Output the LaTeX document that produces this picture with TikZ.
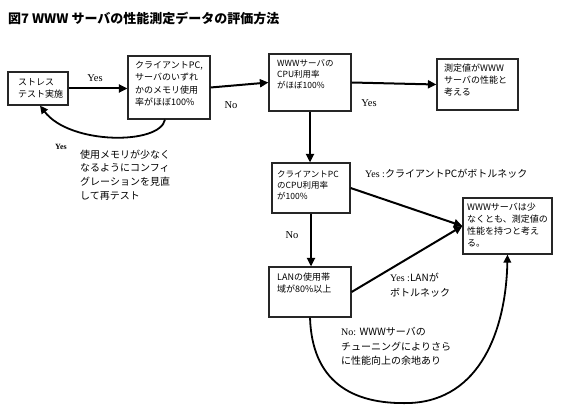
\documentclass[tikz,border=0pt]{standalone}
\usepackage{fontspec}
\setmainfont{Liberation Serif}
\newfontfamily\jp{Noto Sans CJK JP}
\usetikzlibrary{arrows.meta}
\begin{document}
\begin{tikzpicture}[x=1pt,y=-1pt,
  box/.style={draw=black!85, line width=1.2pt, inner sep=0pt},
  btxt/.style={anchor=north west, inner sep=0pt, align=left, font=\jp\fontsize{9}{12}\selectfont},
  lbl/.style={inner sep=0pt, font=\fontsize{10.5}{12}\selectfont},
  jlbl/.style={anchor=north west, inner sep=0pt, align=left, font=\jp\fontsize{10}{13.7}\selectfont},
  arr/.style={line width=2pt, -{Triangle[length=8.5pt,width=8pt]}},
  carr/.style={line width=1.8pt, -{Triangle[length=8pt,width=7.5pt]}}]
\useasboundingbox (0,0) rectangle (564,411);
\fill[white] (0,0) rectangle (564,411);
% title
\node[anchor=west, inner sep=0pt, font=\jp\bfseries\fontsize{13}{15}\selectfont] (title) at (8,18) {図7 WWW サーバの性能測定データの評価方法};
% boxes
\node[box, minimum width=60pt, minimum height=33pt] (b1) at (38,88.5) {};
\node[box, minimum width=82pt, minimum height=63pt] (b2) at (169,87.5) {};
\node[box, minimum width=82pt, minimum height=57pt] (b3) at (310,82.5) {};
\node[box, minimum width=81pt, minimum height=51pt] (b4) at (477.5,84.5) {};
\node[box, minimum width=78pt, minimum height=50pt] (b5) at (311,188) {};
\node[box, minimum width=82pt, minimum height=50pt] (b6) at (310,292) {};
\node[box, minimum width=89pt, minimum height=56pt] (b7) at (507.5,226) {};
% box texts
\node[btxt] (t1) at (18,78) {ストレス\\テスト実施};
\node[btxt, font=\jp\fontsize{9}{12.5}\selectfont] (t2) at (135,61) {クライアントPC,\\サーバのいずれ\\かのメモリ使用\\率がほぼ100\%};
\node[btxt, font=\jp\fontsize{8.5}{11}\selectfont] (t3) at (277,59.5) {WWWサーバの\\CPU利用率\\がほぼ100\%};
\node[btxt] (t4) at (444,63.5) {測定値がWWW\\サーバの性能と\\考える};
\node[btxt, font=\jp\fontsize{8.5}{11}\selectfont] (t5) at (277,170.5) {クライアントPC\\のCPU利用率\\が100\%};
\node[btxt] (t6) at (277,272.5) {LANの使用帯\\域が80\%以上};
\node[btxt] (t7) at (467,202.5) {WWWサーバは少\\なくとも、測定値の\\性能を持つと考え\\る。};
% connectors
\draw[arr] (b1.east) -- (b1.east -| b2.west);
\draw[arr] (b2.east) -- (b3.west);
\draw[arr] (b3.east) -- (b4.west);
\draw[arr] (b3.south) -- (b3.south |- b5.north);
\draw[arr] (b5.south) -- (b5.south |- b6.north);
\draw[arr] (b5.east) -- (b7.west);
\draw[arr] (b6.east) -- (b7.west);
\draw[carr] ([xshift=-4pt]b2.south) .. controls (160,145) and (70,145) .. ([xshift=2pt]b1.south);
\draw[carr] (b6.south) .. controls (312,380) and (350,405) .. (410,403) .. controls (480,400) and (506,330) .. (b7.south);
% labels
\node[lbl] (y1) at (95,78) {Yes};
\node[lbl] (n1) at (231,105) {No};
\node[lbl] (y2) at (369,103) {Yes};
\node[lbl, font=\bfseries\fontsize{8}{10}\selectfont] (y3) at (61,147) {Yes};
\node[jlbl] (m1) at (80,149.5) {使用メモリが少なく\\なるようにコンフィ\\グレーションを見直\\して再テスト};
\node[lbl] (n2) at (292,235) {No};
\node[anchor=west, inner sep=0pt, font=\fontsize{10}{12}\selectfont] (y4) at (365,174) {Yes :{\jp クライアントPCがボトルネック}};
\node[jlbl, font=\fontsize{10}{15}\selectfont] (y5) at (390,272.5) {Yes :{\jp LANが}\\{\jp ボトルネック}};
\node[jlbl, font=\fontsize{10}{14.5}\selectfont] (n3) at (341,327.5) {No: {\jp WWWサーバの}\\{\jp チューニングによりさら}\\{\jp に性能向上の余地あり}};
\end{tikzpicture}
\end{document}
